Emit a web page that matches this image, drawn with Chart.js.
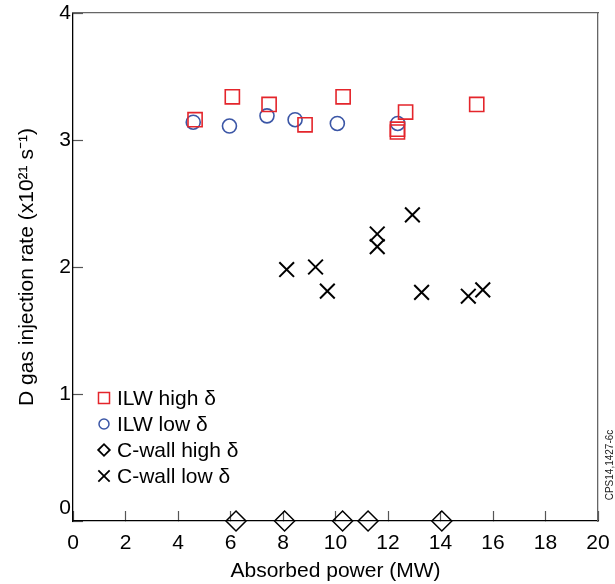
<!DOCTYPE html>
<html>
<head>
<meta charset="utf-8">
<script src="https://cdn.jsdelivr.net/npm/chart.js@4/dist/chart.umd.min.js"></script>
<style>
    html, body { margin: 0; padding: 0; background: #fff; }
    canvas { display: block; }
</style>
</head>
<body>
<canvas id="grafik" width="615" height="584"></canvas>
<script>
// data (MW, x10^21 s^-1)
const ilwHighPower = [4.65, 6.07, 7.47, 8.84, 10.29, 12.36, 12.36, 12.67, 15.38];
const ilwHighRate = [3.16, 3.34, 3.28, 3.12, 3.34, 3.085, 3.063, 3.22, 3.28];

const ilwLowPower = [4.58, 5.96, 7.39, 8.46, 10.07, 12.37];
const ilwLowRate = [3.14, 3.11, 3.19, 3.16, 3.13, 3.13];

const cWallHighPower = [6.21, 8.06, 10.27, 11.24, 14.05];
const cWallHighRate = [0, 0, 0, 0, 0];

const cWallLowPower = [8.14, 9.24, 9.69, 11.59, 11.59, 12.93, 13.28, 15.06, 15.61];
const cWallLowRate = [1.98, 2.0, 1.81, 2.26, 2.16, 2.41, 1.8, 1.77, 1.82];

const seriesLabels = ["ILW high δ", "ILW low δ", "C-wall high δ", "C-wall low δ"];
const xTicks = [0, 2, 4, 6, 8, 10, 12, 14, 16, 18, 20];
const yTicks = [0, 1, 2, 3, 4];

const FONT = "'Liberation Sans', Arial, Helvetica, sans-serif";
const MERAH = "#e4252b";
const BIRU = "#3b56a6";

function gabung(xs, ys) {
    return xs.map((x, i) => ({ x: x, y: ys[i] }));
}

// ukuran sumbu dikunci supaya area plot sama dengan gambar asli
function kunciUkuran(lebar, tinggi) {
    return (scale) => {
        if (lebar !== null) scale.width = lebar;
        if (tinggi !== null) scale.height = tinggi;
        scale.paddingLeft = 0;
        scale.paddingRight = 0;
        scale.paddingTop = 0;
        scale.paddingBottom = 0;
    };
}

// gaya legenda (lebih kecil dari titik di grafik)
const legendaGaya = [
    { pointStyle: "rect", radius: 7.8, borderWidth: 1.5, color: MERAH },
    { pointStyle: "circle", radius: 5, borderWidth: 1.5, color: BIRU },
    { pointStyle: "rectRot", radius: 5.8, borderWidth: 1.8, color: "#000" },
    { pointStyle: "crossRot", radius: 8, borderWidth: 1.8, color: "#000" },
];

const pluginLegenda = {
    id: "legendaDalam",
    afterDraw(chart) {
        const ctx = chart.ctx;
        const area = chart.chartArea;
        const x0 = area.left + 31;
        const y0 = area.bottom - 123;
        const jarak = 26;

        ctx.save();
        legendaGaya.forEach((gaya, i) => {
            const y = y0 + i * jarak;
            ctx.strokeStyle = gaya.color;
            ctx.fillStyle = "rgba(0,0,0,0)";
            ctx.lineWidth = gaya.borderWidth;
            Chart.helpers.drawPoint(ctx, {
                pointStyle: gaya.pointStyle,
                radius: gaya.radius,
                rotation: 0,
                borderWidth: gaya.borderWidth,
            }, x0, y);

            ctx.fillStyle = "#000";
            ctx.font = "21px " + FONT;
            ctx.textAlign = "left";
            ctx.textBaseline = "middle";
            ctx.fillText(seriesLabels[i], x0 + 13, y + 1);
        });

        // kode gambar di tepi kanan
        ctx.translate(area.right + 12, area.bottom - 56);
        ctx.rotate(-Math.PI / 2);
        ctx.font = "10px " + FONT;
        ctx.fillStyle = "#222";
        ctx.textAlign = "center";
        ctx.textBaseline = "middle";
        ctx.fillText("CPS14,1427-6c", 0, 0);
        ctx.restore();
    },
};

new Chart(document.getElementById("grafik"), {
    type: "scatter",
    data: {
        datasets: [
            {
                label: seriesLabels[0],
                data: gabung(ilwHighPower, ilwHighRate),
                pointStyle: "rect",
                pointRadius: 10,
                borderColor: MERAH,
                backgroundColor: "rgba(0,0,0,0)",
                borderWidth: 1.6,
            },
            {
                label: seriesLabels[1],
                data: gabung(ilwLowPower, ilwLowRate),
                pointStyle: "circle",
                pointRadius: 7,
                borderColor: BIRU,
                backgroundColor: "rgba(0,0,0,0)",
                borderWidth: 1.6,
            },
            {
                label: seriesLabels[2],
                data: gabung(cWallHighPower, cWallHighRate),
                pointStyle: "rectRot",
                pointRadius: 10,
                borderColor: "#000",
                backgroundColor: "rgba(0,0,0,0)",
                borderWidth: 1.5,
                clip: false,
            },
            {
                label: seriesLabels[3],
                data: gabung(cWallLowPower, cWallLowRate),
                pointStyle: "crossRot",
                pointRadius: 10.4,
                borderColor: "#000",
                backgroundColor: "rgba(0,0,0,0)",
                borderWidth: 2,
            },
        ],
    },
    options: {
        responsive: false,
        animation: false,
        events: [],
        layout: {
            padding: { top: 13, right: 17, left: 0, bottom: 0 },
        },
        plugins: {
            legend: { display: false },
            tooltip: { enabled: false },
        },
        scales: {
            x: {
                type: "linear",
                position: "bottom",
                min: 0,
                max: 20,
                afterFit: kunciUkuran(null, 63),
                afterBuildTicks: (scale) => {
                    scale.ticks = xTicks.map((v) => ({ value: v }));
                },
                border: { color: "#000", width: 1.3 },
                grid: {
                    drawOnChartArea: false,
                    tickLength: -10,
                    tickColor: "#555",
                    tickWidth: 1.2,
                },
                ticks: {
                    color: "#000",
                    font: { family: FONT, size: 21 },
                    padding: 20,
                    maxRotation: 0,
                    autoSkip: false,
                },
                title: {
                    display: true,
                    text: "Absorbed power (MW)",
                    color: "#000",
                    font: { family: FONT, size: 21 },
                    padding: { top: 0, bottom: 0 },
                },
            },
            y: {
                type: "linear",
                position: "left",
                min: 0,
                max: 4,
                afterFit: kunciUkuran(73, null),
                afterBuildTicks: (scale) => {
                    scale.ticks = yTicks.map((v) => ({ value: v }));
                },
                border: { color: "#000", width: 1.3 },
                grid: {
                    drawOnChartArea: false,
                    tickLength: -10,
                    tickColor: "#555",
                    tickWidth: 1.2,
                },
                ticks: {
                    color: "#000",
                    font: { family: FONT, size: 21 },
                    padding: 12,
                    callback: (v) => (v === 0 ? ["0", ""] : String(v)),
                },
                title: {
                    display: true,
                    text: "D gas injection rate (x10²¹ s⁻¹)",
                    color: "#000",
                    font: { family: FONT, size: 21 },
                    padding: { top: 15, bottom: 0 },
                },
            },
            xAtas: {
                type: "linear",
                position: "top",
                min: 0,
                max: 20,
                afterFit: kunciUkuran(null, 0),
                border: { color: "#666", width: 1.3 },
                grid: { drawOnChartArea: false, drawTicks: false },
                ticks: { display: false },
            },
            yKanan: {
                type: "linear",
                position: "right",
                min: 0,
                max: 4,
                afterFit: kunciUkuran(0, null),
                border: { color: "#666", width: 1.3 },
                grid: { drawOnChartArea: false, drawTicks: false },
                ticks: { display: false },
            },
        },
    },
    plugins: [pluginLegenda],
});
</script>
</body>
</html>
